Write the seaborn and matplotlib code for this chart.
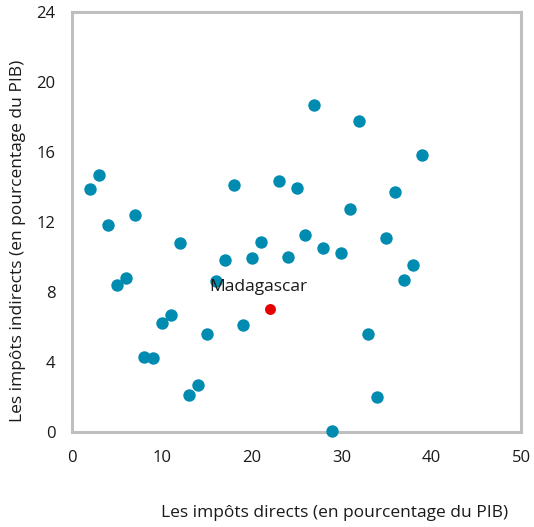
import pandas as pd
import matplotlib
matplotlib.use("Agg")
import matplotlib.pyplot as plt
import seaborn as sns

# Data
direct_tax = [2, 3, 4, 5, 6, 7, 8, 9, 10, 11, 12, 13, 14, 15, 16, 17, 18, 19, 20,
              21, 22, 23, 24, 25, 26, 27, 28, 29, 30, 31, 32, 33, 34, 35, 36, 37, 38, 39]
indirect_tax = [13.9, 14.7, 11.8, 8.4, 8.8, 12.4, 4.3, 4.25, 6.25, 6.7, 10.8, 2.1, 2.7, 5.6,
                8.65, 9.8, 14.1, 6.1, 9.95, 10.85, 7.0, 14.35, 10.0, 13.95, 11.25, 18.7,
                10.5, 0.05, 10.25, 12.75, 17.8, 5.6, 2.0, 11.1, 13.7, 8.7, 9.55, 15.85]
country = ["Autre"] * len(direct_tax)
country[20] = "Madagascar"

df = pd.DataFrame({"direct": direct_tax, "indirect": indirect_tax, "pays": country})

sns.set_style("white")
plt.rcParams["font.family"] = ["Open Sans", "DejaVu Sans"]

fig = plt.figure(figsize=(5.34, 5.27), dpi=100)
ax = fig.add_axes([0.1348, 0.1803, 0.8409, 0.7969])

others = df[df["pays"] != "Madagascar"]
mada = df[df["pays"] == "Madagascar"]
sns.scatterplot(data=others, x="direct", y="indirect", color="#008BB0", s=80,
                linewidth=0, ax=ax, legend=False, clip_on=False, zorder=3)
sns.scatterplot(data=mada, x="direct", y="indirect", color="#E60000", s=62,
                linewidth=0, ax=ax, legend=False, clip_on=False, zorder=3)

row = mada.iloc[0]
ax.text(row["direct"] - 1.2, row["indirect"] + 1.26, "Madagascar",
        ha="center", va="center", fontsize=12.5, color="#1a1a1a")

ax.set_xlim(0, 50)
ax.set_ylim(0, 24)
ax.set_xticks(range(0, 51, 10))
ax.set_yticks(range(0, 25, 4))
ax.set_xlabel("")
ax.set_ylabel("")

for side in ["left", "right", "top", "bottom"]:
    ax.spines[side].set_visible(True)
    ax.spines[side].set_color("#BFBFBF")
    ax.spines[side].set_linewidth(2.2)

ax.tick_params(axis="both", direction="in", length=5, width=1.5, color="#BFBFBF",
               labelsize=12, labelcolor="#1a1a1a", pad=12)
ax.tick_params(axis="x", pad=13)

fig.text(0.034, 0.543, "Les impôts indirects (en pourcentage du PIB)", rotation=90,
         ha="center", va="center", fontsize=12.5, color="#1a1a1a")
fig.text(0.626, 0.027, "Les impôts directs (en pourcentage du PIB)",
         ha="center", va="center", fontsize=12.5, color="#1a1a1a")

fig.savefig("out.png", dpi=100)
